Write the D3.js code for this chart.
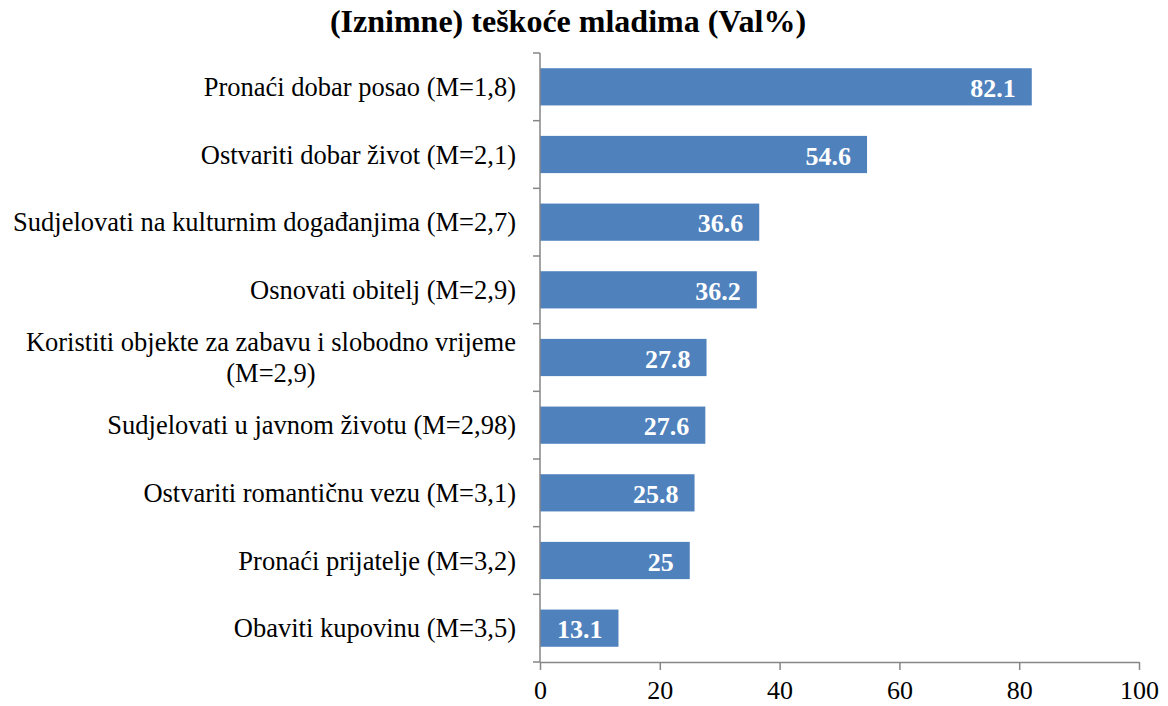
<!DOCTYPE html>
<meta charset="utf-8">
<style>
    body { margin: 0; background: #fff; }
    svg text { font-family: "Liberation Serif", "Times New Roman", serif; }
    .axis path, .axis line { stroke: #868686; stroke-width: 1.5px; }
</style>
<svg width="1168" height="706"></svg>
<script src="https://d3js.org/d3.v7.min.js"></script>
<script>

    // data
    var categories = [
        "Pronaći dobar posao (M=1,8)",
        "Ostvariti dobar život (M=2,1)",
        "Sudjelovati na kulturnim događanjima (M=2,7)",
        "Osnovati obitelj (M=2,9)",
        "Koristiti objekte za zabavu i slobodno vrijeme\n(M=2,9)",
        "Sudjelovati u javnom životu (M=2,98)",
        "Ostvariti romantičnu vezu (M=3,1)",
        "Pronaći prijatelje (M=3,2)",
        "Obaviti kupovinu (M=3,5)"
    ];
    var values = [82.1, 54.6, 36.6, 36.2, 27.8, 27.6, 25.8, 25, 13.1];
    var xTicks = [0, 20, 40, 60, 80, 100];
    var title = "(Iznimne) teškoće mladima (Val%)";

    var svg = d3.select("svg");

    var margin = {left: 540, right: 29, top: 53, bottom: 44};
    var width = 1168, height = 706;

    var x = d3.scaleLinear().domain([0, 100]).range([margin.left, width - margin.right]);
    var y = d3.scaleBand().domain(d3.range(categories.length))
        .range([margin.top, height - margin.bottom]).paddingInner(0.45).paddingOuter(0.225);

    svg.append("text")
        .attr("x", 568).attr("y", 32)
        .attr("text-anchor", "middle")
        .attr("font-size", "32px").attr("font-weight", "bold")
        .text(title);

    // bars
    svg.append("g").selectAll("rect")
        .data(values)
        .enter().append("rect")
        .attr("x", x(0))
        .attr("y", function (d, i) { return y(i); })
        .attr("width", function (d) { return x(d) - x(0); })
        .attr("height", y.bandwidth())
        .attr("fill", "#4f81bd");

    // value labels
    svg.append("g").selectAll("text")
        .data(values)
        .enter().append("text")
        .attr("x", function (d) { return x(d) - 16; })
        .attr("y", function (d, i) { return y(i) + y.bandwidth() / 2 + 10; })
        .attr("text-anchor", "end")
        .attr("fill", "#fff")
        .attr("font-weight", "bold")
        .attr("font-size", "26px")
        .text(function (d) { return d; });

    // y axis: line with ticks at band boundaries
    var step = y.step();
    var yAxis = svg.append("g").attr("class", "axis");
    yAxis.append("line")
        .attr("x1", x(0)).attr("x2", x(0))
        .attr("y1", margin.top).attr("y2", height - margin.bottom);
    yAxis.selectAll(".tk")
        .data(d3.range(categories.length + 1))
        .enter().append("line")
        .attr("x1", x(0) - 7).attr("x2", x(0))
        .attr("y1", function (i) { return margin.top + i * step; })
        .attr("y2", function (i) { return margin.top + i * step; });

    // category labels
    var labels = svg.append("g").selectAll("g")
        .data(categories)
        .enter().append("g");

    labels.each(function (d, i) {
        var g = d3.select(this);
        var lines = d.split("\n");
        var cy = y(i) + y.bandwidth() / 2;
        var first = g.append("text")
            .attr("x", 516)
            .attr("y", cy + 9 - (lines.length - 1) * 15.5)
            .attr("text-anchor", "end")
            .attr("font-size", "26.5px")
            .attr("fill", "#000")
            .text(lines[0]);
        if (lines.length > 1) {
            var w = first.node().getComputedTextLength();
            g.append("text")
                .attr("x", 516 - w / 2)
                .attr("y", cy + 9 + 15.5)
                .attr("text-anchor", "middle")
                .attr("font-size", "26.5px")
                .text(lines[1]);
        }
    });

    // x axis
    var xAxis = svg.append("g")
        .attr("class", "axis")
        .attr("transform", "translate(0," + (height - margin.bottom) + ")")
        .call(d3.axisBottom(x).tickValues(xTicks).tickSize(8).tickSizeOuter(0).tickPadding(11));
    xAxis.selectAll("text")
        .attr("font-size", "26px")
        .attr("font-family", "Liberation Serif, Times New Roman, serif")
        .attr("fill", "#000");

</script>
